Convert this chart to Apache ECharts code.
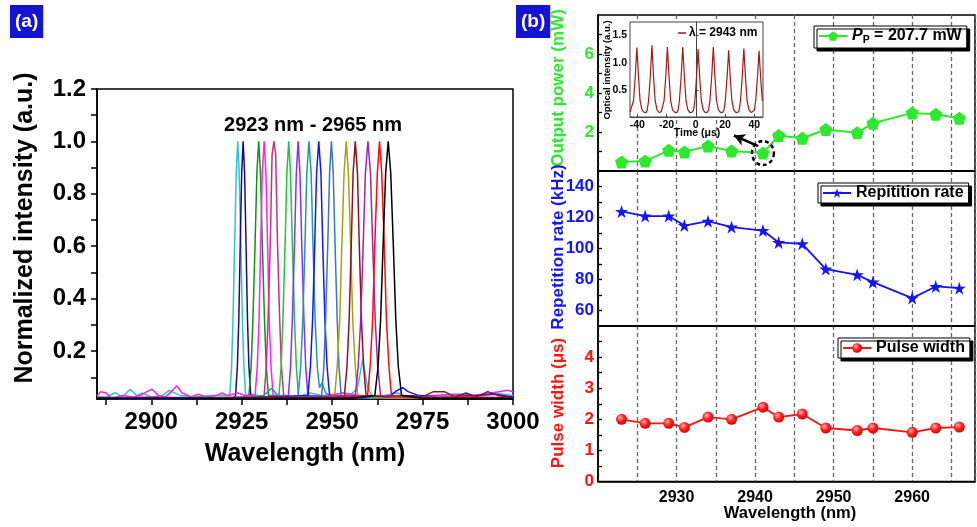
<!DOCTYPE html>
<html><head><meta charset="utf-8">
<script src="https://cdn.jsdelivr.net/npm/echarts@6/dist/echarts.min.js"></script>
<style>html,body{margin:0;padding:0;background:#fff}#c{width:977px;height:527px}</style>
</head><body><div id="c"></div>
<script>
// ---------- Panel (a): normalized spectra, [wavelength nm, intensity] ----------
const s2924 = [[2885,0.03],[2887,0.02],[2890,0.041],[2892,0.025],[2894.2,0.054],[2896,0.03],[2897.5,0.04],[2900,0.025],[2903,0.03],[2905,0.05],[2908,0.03],[2912,0.025],[2916,0.03],[2920,0.03],[2921.7,0.03],[2922.2,0.14],[2922.6,0.32],[2923.05,0.61],[2923.5,0.88],[2923.9,1.0],[2924.3,0.88],[2924.75,0.61],[2925.2,0.32],[2925.6,0.14],[2926.1,0.03],[2928,0.035],[2931,0.025],[2935,0.03],[2940,0.025],[2944,0.04],[2947,0.03],[2950,0.03],[2953,0.04],[2955,0.03],[2957,0.06],[2958.5,0.17],[2959.8,0.06],[2961,0.03],[2965,0.03],[2968,0.04],[2970,0.03],[2975,0.025],[2980,0.03],[2985,0.035],[2990,0.03],[2995,0.04],[3000,0.03]];
const s2925 = [[2885,0.02],[2890,0.015],[2895,0.02],[2900,0.02],[2905,0.015],[2910,0.02],[2915,0.02],[2920,0.02],[2922.5,0.02],[2923.3,0.03],[2923.8,0.14],[2924.2,0.32],[2924.6,0.61],[2925.0,0.88],[2925.4,1.0],[2925.8,0.88],[2926.2,0.61],[2926.6,0.32],[2927.0,0.14],[2927.5,0.03],[2930,0.02],[2935,0.025],[2940,0.02],[2945,0.02],[2950,0.02],[2955,0.025],[2960,0.02],[2965,0.02],[2970,0.025],[2975,0.02],[2980,0.02],[2990,0.02],[3000,0.02]];
const s2930 = [[2885,0.02],[2895,0.02],[2905,0.02],[2915,0.02],[2925,0.025],[2927.0,0.03],[2927.6,0.14],[2928.1,0.32],[2928.7,0.61],[2929.2,0.88],[2929.7,1.0],[2930.2,0.88],[2930.7,0.61],[2931.3,0.32],[2931.8,0.14],[2932.4,0.03],[2935,0.03],[2940,0.02],[2950,0.025],[2960,0.02],[2970,0.02],[2980,0.025],[2990,0.02],[3000,0.02]];
const s2931 = [[2885,0.03],[2886,0.045],[2887.5,0.04],[2889,0.02],[2892,0.03],[2895,0.025],[2897,0.03],[2898.8,0.045],[2900.2,0.054],[2902,0.03],[2904,0.025],[2905.5,0.045],[2907,0.068],[2908.5,0.04],[2911,0.025],[2913,0.035],[2915,0.025],[2918,0.03],[2919.5,0.04],[2921,0.03],[2924,0.04],[2926,0.03],[2928.7,0.03],[2929.3,0.14],[2929.8,0.32],[2930.25,0.61],[2930.7,0.88],[2931.2,1.0],[2931.7,0.88],[2932.15,0.61],[2932.6,0.32],[2933.1,0.14],[2933.7,0.03],[2937,0.03],[2942,0.025],[2948,0.03],[2953,0.04],[2958,0.03],[2963,0.025],[2968,0.03],[2972,0.025],[2978,0.03],[2984,0.035],[2989,0.03],[2994,0.04],[2998.5,0.05],[3000,0.045]];
const s2934 = [[2885,0.02],[2900,0.025],[2915,0.02],[2925,0.02],[2929,0.025],[2931.2,0.03],[2931.8,0.14],[2932.3,0.32],[2932.9,0.61],[2933.4,0.95],[2933.9,1.0],[2934.4,0.95],[2934.9,0.61],[2935.5,0.32],[2936.0,0.14],[2936.6,0.03],[2940,0.02],[2945,0.025],[2955,0.02],[2965,0.03],[2975,0.025],[2985,0.02],[3000,0.02]];
const s2938 = [[2885,0.02],[2905,0.02],[2925,0.02],[2932,0.025],[2935.3,0.03],[2935.9,0.14],[2936.4,0.32],[2937.0,0.61],[2937.5,0.88],[2938.0,1.0],[2938.5,0.88],[2939.0,0.61],[2939.6,0.32],[2940.1,0.14],[2940.7,0.03],[2945,0.02],[2955,0.025],[2965,0.02],[2980,0.02],[3000,0.02]];
const s2941 = [[2885,0.02],[2910,0.02],[2930,0.025],[2937.9,0.03],[2938.5,0.14],[2939.0,0.32],[2939.6,0.61],[2940.1,0.88],[2940.6,1.0],[2941.1,0.88],[2941.6,0.61],[2942.2,0.32],[2942.7,0.14],[2943.3,0.03],[2950,0.025],[2960,0.02],[2975,0.025],[3000,0.02]];
const s2944 = [[2885,0.025],[2900,0.02],[2915,0.025],[2925,0.02],[2931,0.03],[2933.3,0.058],[2935,0.03],[2938,0.025],[2940.6,0.03],[2941.3,0.14],[2941.9,0.32],[2942.5,0.61],[2943.0,0.88],[2943.6,1.0],[2944.2,0.88],[2944.7,0.61],[2945.3,0.32],[2945.9,0.14],[2946.5,0.06],[2947.2,0.08],[2948.2,0.04],[2950,0.025],[2960,0.02],[2970,0.025],[2985,0.02],[3000,0.025]];
const s2946 = [[2885,0.02],[2900,0.015],[2920,0.02],[2935,0.025],[2943.3,0.03],[2944.0,0.14],[2944.6,0.32],[2945.2,0.61],[2945.7,0.88],[2946.3,1.0],[2946.9,0.88],[2947.4,0.61],[2948.0,0.32],[2948.6,0.14],[2949.3,0.03],[2955,0.02],[2962,0.025],[2966,0.03],[2968,0.05],[2969.5,0.06],[2971,0.045],[2974,0.03],[2980,0.025],[2990,0.03],[2995,0.035],[3000,0.025]];
const s2950 = [[2885,0.02],[2910,0.02],[2935,0.02],[2945,0.025],[2947.1,0.03],[2947.7,0.14],[2948.2,0.32],[2948.8,0.61],[2949.3,0.88],[2949.8,1.0],[2950.3,0.88],[2950.8,0.61],[2951.4,0.32],[2951.9,0.14],[2952.5,0.03],[2960,0.025],[2975,0.02],[3000,0.02]];
const s2954 = [[2885,0.02],[2920,0.02],[2945,0.02],[2950.7,0.03],[2951.4,0.14],[2952.1,0.32],[2952.7,0.61],[2953.3,0.88],[2953.9,1.0],[2954.5,0.88],[2955.1,0.61],[2955.7,0.32],[2956.4,0.14],[2957.1,0.03],[2965,0.02],[2980,0.025],[3000,0.02]];
const s2956 = [[2885,0.02],[2920,0.02],[2935,0.025],[2945,0.02],[2953.4,0.03],[2954.1,0.14],[2954.7,0.32],[2955.3,0.61],[2955.8,0.88],[2956.4,1.0],[2957.0,0.88],[2957.5,0.61],[2958.1,0.32],[2958.7,0.14],[2959.4,0.03],[2965,0.025],[2972,0.03],[2975,0.025],[2978,0.045],[2981,0.045],[2984,0.025],[2987,0.04],[2990,0.025],[2993,0.045],[2996,0.03],[3000,0.02]];
const s2960 = [[2885,0.02],[2925,0.02],[2945,0.025],[2956.4,0.03],[2957.2,0.14],[2957.9,0.32],[2958.6,0.61],[2959.2,0.88],[2959.9,1.0],[2960.6,0.88],[2961.2,0.61],[2961.9,0.32],[2962.6,0.14],[2963.4,0.03],[2970,0.025],[2985,0.02],[3000,0.02]];
const s2963 = [[2885,0.02],[2930,0.02],[2950,0.02],[2959.8,0.03],[2960.5,0.14],[2961.2,0.32],[2961.8,0.61],[2962.5,0.88],[2963.1,1.0],[2963.7,0.88],[2964.4,0.61],[2965.0,0.32],[2965.7,0.14],[2966.4,0.03],[2975,0.02],[2990,0.025],[3000,0.02]];
const s2966 = [[2885,0.02],[2930,0.02],[2955,0.02],[2961.8,0.03],[2962.7,0.14],[2963.4,0.32],[2964.1,0.61],[2964.8,0.88],[2965.5,1.0],[2966.2,0.88],[2966.9,0.61],[2967.6,0.32],[2968.3,0.14],[2969.2,0.03],[2975,0.02],[2990,0.02],[3000,0.02]];
const spectraList = [s2924,s2925,s2930,s2931,s2934,s2938,s2941,s2944,s2946,s2950,s2954,s2956,s2960,s2963,s2966];
const leftXLabels = [2900,2925,2950,2975,3000];
const leftXTicks = [2887.5,2900,2912.5,2925,2937.5,2950,2962.5,2975,2987.5,3000];
const leftYLabels = [0.2,0.4,0.6,0.8,1.0,1.2];
const leftYTicks = [0.1,0.2,0.3,0.4,0.5,0.6,0.7,0.8,0.9,1.0,1.1,1.2];

// ---------- Panel (b) ----------
const wavelengths = [2923,2926,2929,2931,2934,2937,2941,2943,2946,2949,2953,2955,2960,2963,2966];
const outputPower = [0.46,0.51,1.06,0.97,1.28,1.02,0.92,1.82,1.68,2.13,1.96,2.45,2.98,2.91,2.70];
const repRate = [123.9,120.9,120.9,114.8,117.6,113.8,111.6,103.9,103.0,86.7,83.0,78.3,68.0,75.5,74.4];
const pulseWidth = [2.0,1.87,1.87,1.74,2.07,2.0,2.39,2.07,2.17,1.72,1.64,1.72,1.58,1.72,1.75];
const rightXLabels = [2930,2940,2950,2960];
const powerLabels = [2,4,6];
const powerTicks = [1,2,3,4,5,6,7];
const rateLabels = [60,80,100,120,140];
const rateTicks = [60,70,80,90,100,110,120,130,140];
const widthLabels = [0,1,2,3,4];
const widthTicks = [0.5,1,1.5,2,2.5,3,3.5,4,4.5];
// inset pulse train at 2943 nm, [time us, intensity]
const pulseTrain = [[-45,0.09],[-43.8,0.12],[-42.6,0.3],[-41.4,0.75],[-40.3,1.28],[-39.2,0.75],[-38.1,0.3],[-36.8,0.13],[-35.5,0.09],[-34,0.08],[-33.2,0.13],[-32.3,0.3],[-31.1,0.75],[-30.0,1.32],[-28.9,0.75],[-27.8,0.3],[-26.5,0.13],[-25,0.08],[-23.6,0.1],[-22.6,0.13],[-21.7,0.3],[-20.5,0.75],[-19.4,1.29],[-18.3,0.75],[-17.2,0.3],[-15.9,0.13],[-14.5,0.09],[-13,0.08],[-12.1,0.13],[-11.2,0.3],[-10.0,0.75],[-8.9,1.29],[-7.8,0.75],[-6.7,0.3],[-5.4,0.13],[-4,0.08],[-2.5,0.09],[-1.5,0.13],[-0.6,0.3],[0.5,0.73],[1.6,1.25],[2.7,0.73],[3.8,0.3],[5.1,0.13],[6.5,0.08],[8,0.09],[8.8,0.13],[9.7,0.3],[10.9,0.75],[12.0,1.29],[13.1,0.75],[14.2,0.3],[15.5,0.13],[17,0.08],[18.5,0.09],[19.3,0.13],[20.2,0.3],[21.4,0.72],[22.5,1.23],[23.6,0.72],[24.7,0.3],[26,0.13],[27.5,0.08],[29,0.09],[29.7,0.13],[30.6,0.3],[31.8,0.74],[32.9,1.26],[34.0,0.74],[35.1,0.3],[36.4,0.13],[38,0.08],[39.3,0.1],[40.1,0.13],[41.0,0.3],[42.2,0.72],[43.3,1.22],[44.4,0.72],[45.5,0.3]];
const insetXLabels = [-40,-20,0,20,40];
const insetYLabels = [0.5,1.0,1.5];

// ---------- styles ----------
const F = '"Liberation Sans", Arial, sans-serif';
const specColors = ['#2ec4d4','#10108a','#149014','#ff20ff','#c8307c','#22c23a','#8a2cff','#1f9a9a','#1515ff','#3d72c4','#a3a312','#960e1e','#a024a8','#ff0a0a','#000000'];
const GREEN = '#2ee82e', BLUE = '#1414ff', RED = '#ff1414';
const pentagon = 'path://M0,-1 L0.951,-0.309 L0.588,0.809 L-0.588,0.809 L-0.951,-0.309 Z';
const star = 'path://M0,-1 L0.2245,-0.309 L0.951,-0.309 L0.363,0.118 L0.588,0.809 L0,0.382 L-0.588,0.809 L-0.363,0.118 L-0.951,-0.309 L-0.2245,-0.309 Z';
const plain = v => String(v);

const chart = echarts.init(document.getElementById('c'), null, {renderer:'canvas'});
const axisLineBlk = {show:true, lineStyle:{color:'#000', width:1.5}};
const dashed = {show:true, lineStyle:{color:'#666', width:1.3, type:[4,3]}};
function rightX(gi, showLabel){
  return {gridIndex:gi, type:'value', min:2920, max:2968, interval:5,
    axisLine:axisLineBlk, axisTick:{show:false}, splitLine:dashed,
    axisLabel: showLabel ? {customValues:rightXLabels, formatter:plain, fontSize:16, fontWeight:'bold', color:'#000', fontFamily:F, margin:8} : {show:false}};
}
function rightY(gi, min, max, labels, ticks, color){
  return {gridIndex:gi, type:'value', min:min, max:max,
    axisLine:axisLineBlk, splitLine:{show:false},
    axisTick:{show:true, inside:true, length:4, customValues:ticks, lineStyle:{color:'#000', width:1.3}},
    axisLabel:{customValues:labels, formatter:plain, fontSize:17, fontWeight:'bold', color:color, fontFamily:F, margin:4}};
}
const legendBase = {orient:'horizontal', backgroundColor:'#fff', borderColor:'#000', borderWidth:1,
  shadowColor:'#000', shadowOffsetX:3, shadowOffsetY:3, shadowBlur:0, padding:[2,5,2,4],
  itemWidth:28, itemHeight:12, itemGap:4, selectedMode:false,
  textStyle:{fontSize:16, fontWeight:'bold', color:'#000', fontFamily:F}};

const series = spectraList.map((d,i)=>({
  type:'line', xAxisIndex:0, yAxisIndex:0, data:d, showSymbol:false, symbol:'none',
  lineStyle:{color:specColors[i], width:1.5}, itemStyle:{color:specColors[i]}, z:2, silent:true
}));
series.push({
  name:'Pp', type:'line', xAxisIndex:1, yAxisIndex:1, data:wavelengths.map((w,i)=>[w,outputPower[i]]),
  symbol:pentagon, symbolSize:13, lineStyle:{color:GREEN, width:2}, itemStyle:{color:GREEN}, z:3,
  markLine:{silent:true, symbol:['none','arrow'], symbolSize:[9,11], label:{show:false},
    lineStyle:{color:'#000', width:2.5, type:'solid'},
    data:[[{coord:[2940.4,1.28]},{coord:[2937.3,1.82]}]]},
  markPoint:{silent:true, symbol:'circle', symbolSize:[22,24], label:{show:false},
    itemStyle:{color:'rgba(0,0,0,0)', borderColor:'#000', borderWidth:2.5, borderType:[4,3]},
    data:[{coord:[2941,0.92]}]}
});
series.push({
  name:'Repitition rate', type:'line', xAxisIndex:2, yAxisIndex:2, data:wavelengths.map((w,i)=>[w,repRate[i]]),
  symbol:star, symbolSize:13, lineStyle:{color:BLUE, width:1.8}, itemStyle:{color:BLUE}, z:3
});
series.push({
  name:'Pulse width', type:'line', xAxisIndex:3, yAxisIndex:3, data:wavelengths.map((w,i)=>[w,pulseWidth[i]]),
  symbol:'circle', symbolSize:11, lineStyle:{color:RED, width:1.8},
  itemStyle:{color:{type:'radial', x:0.38, y:0.35, r:0.7, colorStops:[{offset:0,color:'#ffb0b0'},{offset:0.5,color:'#ff2020'},{offset:1,color:'#d00000'}]}}, z:3
});
series.push({
  name:'λ = 2943 nm', type:'line', xAxisIndex:4, yAxisIndex:4, data:pulseTrain, showSymbol:false, symbol:'none',
  lineStyle:{color:'#a31818', width:1.2}, itemStyle:{color:'#a31818'}, z:12, silent:true
});

const txt = (t, x, y, size, color, rot) => ({type:'text', x:x, y:y, rotation:rot||0, z:100,
  style:{text:t, font:'bold '+size+'px '+F, fill:color, textAlign:'center', textVerticalAlign:'middle', verticalAlign:'middle'}});

chart.setOption({
  animation:false,
  backgroundColor:'#fff',
  title:[
    {text:'(a)', left:10, top:5, backgroundColor:'#1414d2', padding:[5,5,5,5], textStyle:{color:'#fff', fontSize:19, fontWeight:'bold', fontFamily:F, lineHeight:23}},
    {text:'(b)', left:516, top:5, backgroundColor:'#1414d2', padding:[5,5,5,5], textStyle:{color:'#fff', fontSize:19, fontWeight:'bold', fontFamily:F, lineHeight:23}}
  ],
  grid:[
    {left:97, top:89, width:416, height:310, show:true, borderColor:'#000', borderWidth:1.5, containLabel:false},
    {left:598, top:15, right:2, height:156, show:true, borderColor:'#000', borderWidth:1.5},
    {left:598, top:171, right:2, height:155, show:true, borderColor:'#000', borderWidth:1.5},
    {left:598, top:326, right:2, height:155.5, show:true, borderColor:'#000', borderWidth:1.5},
    {left:630, top:22, width:133, height:95, show:true, backgroundColor:'#fff', borderColor:'#444', borderWidth:1, z:10}
  ],
  xAxis:[
    {gridIndex:0, type:'value', min:2885, max:3000, axisLine:axisLineBlk, splitLine:{show:false},
     axisTick:{show:true, length:6, customValues:leftXTicks, lineStyle:{color:'#000', width:1.5}},
     axisLabel:{customValues:leftXLabels, formatter:plain, fontSize:24, fontWeight:'bold', color:'#000', fontFamily:F, margin:11}},
    rightX(1,false), rightX(2,false), rightX(3,true),
    {gridIndex:4, type:'value', min:-45, max:46, z:11, axisLine:{show:true, lineStyle:{color:'#444', width:1}}, splitLine:{show:false},
     axisTick:{show:true, inside:true, length:3, customValues:insetXLabels, lineStyle:{color:'#444'}},
     axisLabel:{customValues:insetXLabels, formatter:plain, fontSize:10.5, fontWeight:'bold', color:'#000', fontFamily:F, margin:3}}
  ],
  yAxis:[
    {gridIndex:0, type:'value', min:0.017, max:1.2, axisLine:axisLineBlk, splitLine:{show:false},
     axisTick:{show:true, length:6, customValues:leftYTicks, lineStyle:{color:'#000', width:1.5}},
     axisLabel:{customValues:leftYLabels, formatter:v=>v.toFixed(1), fontSize:24, fontWeight:'bold', color:'#000', fontFamily:F, margin:11}},
    rightY(1,0,8,powerLabels,powerTicks,GREEN),
    rightY(2,50,150,rateLabels,rateTicks,BLUE),
    rightY(3,0,5,widthLabels,widthTicks,RED),
    {gridIndex:4, type:'value', min:0, max:1.75, z:11, axisLine:{show:true, lineStyle:{color:'#444', width:1}}, splitLine:{show:false},
     axisTick:{show:true, inside:true, length:3, customValues:insetYLabels, lineStyle:{color:'#444'}},
     axisLabel:{customValues:insetYLabels, formatter:v=>v.toFixed(1), fontSize:10.5, fontWeight:'bold', color:'#000', fontFamily:F, margin:3}}
  ],
  legend:[
    Object.assign({}, legendBase, {data:['Pp'], left:814, top:26,
      formatter:()=>'{i|P}{s|P}{n| = 207.7 mW}',
      textStyle:{fontFamily:F, color:'#000', rich:{
        i:{fontSize:16, fontWeight:'bold', fontStyle:'italic', fontFamily:F, color:'#000'},
        s:{fontSize:10.5, fontWeight:'bold', fontFamily:F, color:'#000', padding:[9,0,0,0]},
        n:{fontSize:16, fontWeight:'bold', fontFamily:F, color:'#000'}}}}),
    Object.assign({}, legendBase, {data:['Repitition rate'], left:818, top:183}),
    Object.assign({}, legendBase, {data:['Pulse width'], left:838, top:338}),
    {data:[{name:'λ = 2943 nm', icon:'rect'}], left:678, top:27, z:13, itemWidth:8, itemHeight:1.5, itemGap:2, padding:0, selectedMode:false,
     textStyle:{fontSize:12, fontWeight:'bold', color:'#000', fontFamily:F, padding:[0,0,0,-2]}}
  ],
  series:series,
  graphic:[
    txt('2923 nm - 2965 nm', 313, 125, 20, '#000'),
    txt('Normalized intensity (a.u.)', 25, 228, 25, '#000', Math.PI/2),
    txt('Wavelength (nm)', 305, 454, 25, '#000'),
    txt('Output power (mW)', 558, 88, 17, GREEN, Math.PI/2),
    txt('Repetition rate (kHz)', 558, 247, 17, BLUE, Math.PI/2),
    txt('Pulse width (μs)', 558, 403, 17, RED, Math.PI/2),
    txt('Wavelength (nm)', 790, 513, 16.5, '#000'),
    txt('Optical intensity (a.u.)', 607, 70, 9.5, '#000', Math.PI/2),
    txt('Time (μs)', 697, 133, 10.5, '#000')
  ]
});
</script></body></html>
